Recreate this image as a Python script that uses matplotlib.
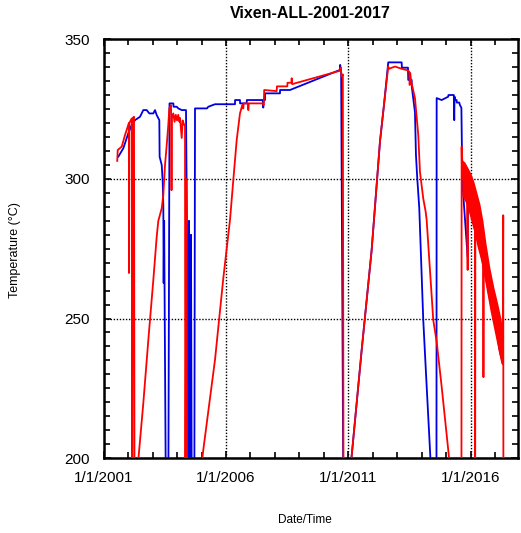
import matplotlib
matplotlib.use("Agg")
import matplotlib.pyplot as plt
import numpy as np

plt.rcParams['font.family'] = ['Liberation Sans', 'DejaVu Sans']

# dates are decimal years, values in deg C (values < 200 are off-scale drop-outs)
blue_t = [2001.604, 2001.808, 2002.012, 2002.151, 2002.286, 2002.490, 2002.624, 2002.763,
          2002.869, 2003.033, 2003.102, 2003.171, 2003.278, 2003.290, 2003.376, 2003.416,
          2003.441, 2003.455, 2003.475, 2003.490, 2003.571, 2003.633, 2003.694,
          2003.849, 2003.860, 2003.988, 2004.053, 2004.192, 2004.367, 2004.390, 2004.408,
          2004.449, 2004.490, 2004.531, 2004.571, 2004.612, 2004.700, 2004.735,
          2005.224, 2005.278, 2005.551, 2006.367, 2006.370, 2006.571, 2006.575, 2006.845,
          2006.850, 2007.500, 2007.522, 2007.540, 2007.592, 2007.595, 2008.204, 2008.207,
          2008.612, 2010.653, 2010.660, 2010.700, 2010.800,
          2011.155, 2011.539, 2011.743, 2011.947, 2012.286, 2012.449, 2012.624, 2013.171,
          2013.180, 2013.429, 2013.440, 2013.580, 2013.585, 2013.714, 2013.755, 2013.808,
          2013.890, 2014.053, 2014.151, 2014.327, 2014.449, 2014.592,
          2014.600, 2014.804, 2015.073, 2015.080, 2015.300, 2015.318, 2015.330, 2015.347,
          2015.416, 2015.420, 2015.522, 2015.551, 2015.610, 2015.630,
          2015.673, 2015.865, 2015.880, 2015.959, 2016.082, 2016.286, 2016.490, 2016.776,
          2016.980, 2017.184, 2017.298]
blue_v = [308.0, 311.0, 316.4, 319.4, 321.1, 322.3, 324.7, 324.7,
          323.5, 323.5, 324.7, 322.9, 321.1, 308.0, 305.0, 299.0,
          290.7, 262.7, 285.0, 263.0, 150.0, 150.0, 327.1,
          327.1, 325.9, 325.9, 325.3, 324.7, 324.7, 300.0, 280.0,
          150.0, 285.0, 150.0, 280.0, 150.0, 150.0, 325.3,
          325.3, 325.9, 326.8, 326.8, 328.3, 328.3, 327.1, 327.1,
          328.3, 328.3, 325.6, 328.3, 328.3, 330.7, 330.7, 331.9,
          331.9, 339.1, 340.9, 338.5, 171.0,
          203.0, 238.7, 256.6, 274.6, 313.4, 326.5, 341.8, 341.8,
          339.9, 339.9, 335.5, 335.5, 333.0, 324.0, 308.6, 300.3,
          289.6, 249.5, 232.7, 203.0, 182.0, 182.0,
          329.0, 328.3, 329.5, 330.1, 330.1, 321.1, 329.5, 328.3,
          328.3, 327.4, 327.4, 326.5, 325.5, 311.6,
          296.0, 272.0, 292.0, 289.0, 285.0, 278.0, 270.0, 257.0,
          249.0, 238.0, 234.0]

red_t = [2001.560, 2001.580, 2001.743, 2001.878, 2002.012, 2002.035, 2002.041, 2002.050,
         2002.151, 2002.171, 2002.204, 2002.245, 2002.265,
         2002.420, 2002.624, 2002.829, 2003.033, 2003.171, 2003.237, 2003.376, 2003.441,
         2003.510, 2003.580, 2003.645, 2003.686, 2003.755, 2003.765, 2003.776, 2003.790,
         2003.850, 2003.900, 2003.950, 2004.000, 2004.050, 2004.100, 2004.122, 2004.192,
         2004.230, 2004.290, 2004.327, 2004.340, 2004.380, 2004.420, 2004.449,
         2005.073, 2005.551, 2005.890, 2006.163, 2006.298, 2006.437, 2006.571, 2006.665,
         2006.706, 2006.720, 2006.900, 2006.910, 2006.930, 2007.500, 2007.540, 2007.560,
         2008.069, 2008.080, 2008.502, 2008.510, 2008.670, 2008.682, 2008.700,
         2010.653, 2010.680, 2010.720, 2010.770, 2010.800,
         2011.155, 2011.539, 2011.743, 2011.947, 2012.286, 2012.449, 2012.624,
         2012.650, 2012.900, 2013.171, 2013.400, 2013.480, 2013.500, 2013.520, 2013.560,
         2013.714, 2013.849, 2013.918, 2014.053, 2014.151, 2014.192, 2014.461, 2014.600,
         2014.804, 2015.073, 2015.224, 2015.612, 2015.620,
         2015.640, 2015.700, 2015.760, 2015.830, 2015.865, 2015.880, 2016.000, 2016.163,
         2016.170, 2016.180, 2016.350, 2016.502, 2016.510, 2016.520, 2016.700, 2016.900,
         2017.100, 2017.298, 2017.318, 2017.327]
red_v = [306.5, 310.4, 311.6, 315.8, 319.4, 320.0, 266.3, 320.0,
         321.7, 183.0, 322.0, 322.3, 183.0,
         199.3, 219.6, 242.3, 263.8, 279.3, 285.0, 289.5, 294.3,
         305.0, 312.2, 319.4, 325.3, 326.5, 320.5, 296.0, 322.0,
         323.5, 320.5, 323.0, 321.0, 323.0, 320.5, 321.9, 314.7,
         321.0, 319.4, 319.4, 160.0, 300.0, 155.0, 155.0,
         202.9, 235.2, 264.4, 285.3, 299.6, 314.0, 323.5, 326.5,
         325.3, 327.1, 327.1, 324.7, 327.1, 327.1, 326.5, 331.9,
         331.5, 333.2, 333.2, 334.5, 334.5, 336.1, 334.0,
         338.8, 340.0, 336.7, 337.5, 171.0,
         203.0, 238.7, 256.6, 274.6, 313.4, 326.5, 340.3,
         339.5, 340.3, 339.5, 339.0, 338.5, 333.7, 338.0, 335.0,
         329.0, 315.8, 302.6, 293.0, 288.3, 285.3, 249.5, 241.7,
         225.6, 202.9, 189.0, 189.0, 311.6,
         300.0, 305.0, 296.0, 303.0, 267.4, 300.0, 294.0, 290.0,
         150.0, 290.0, 280.0, 278.0, 229.0, 276.0, 262.0, 252.0,
         244.0, 235.0, 287.0, 150.0]

# spread of the dense red readings 2015-2017
band_t = [2015.633, 2015.755, 2015.878, 2016.000, 2016.122, 2016.245, 2016.367,
          2016.490, 2016.612, 2016.776, 2016.939, 2017.102, 2017.224, 2017.306]
band_lo = [294, 292, 289, 285, 281, 276, 272, 267, 261, 253, 246, 239, 234, 233]
band_hi = [307, 306, 304, 302, 299, 295, 291, 285, 277, 268, 261, 255, 250, 245]

major_years = [2001, 2006, 2011, 2016]
major_labels = ['1/1/2001', '1/1/2006', '1/1/2011', '1/1/2016']

fig = plt.figure(figsize=(5.21, 5.33), dpi=100)
ax = fig.add_axes([0.1987, 0.1407, 0.7955, 0.7852])

ax.plot(blue_t, blue_v, color='#0000e0', lw=1.3, zorder=3)
ax.fill_between(band_t, band_lo, band_hi, color='#ff0000', lw=0, zorder=4)
ax.plot(red_t, red_v, color='#ff0000', lw=1.3, zorder=5)

ax.set_xlim(2001.0, 2017.92)
ax.set_ylim(200, 350)
ax.set_xticks(major_years)
ax.set_xticklabels(major_labels)
ax.set_xticks(np.arange(2001, 2018), minor=True)
ax.set_yticks([200, 250, 300, 350])
ax.set_yticks(np.arange(200, 351, 5), minor=True)

ax.tick_params(which='both', direction='in', top=True, right=True, width=1.2, labelsize=11)
ax.tick_params(which='major', length=5)
ax.tick_params(axis='x', which='major', pad=9)
ax.tick_params(axis='y', which='major', pad=10)
ax.tick_params(which='minor', length=4)
ax.grid(True, which='major', color='black', linestyle=(0, (1, 1.2)), lw=1.0)
for s in ax.spines.values():
    s.set_linewidth(1.8)

fig.text(310 / 521, 1 - 14 / 533, 'Vixen-ALL-2001-2017', ha='center', va='center',
         fontsize=11.5, fontweight='bold')
fig.text(15 / 521, 1 - 250 / 533, 'Temperature (°C)', rotation=90, ha='center',
         va='center', fontsize=9)
fig.text(305 / 521, 1 - 520 / 533, 'Date/Time', ha='center', va='center', fontsize=8.5)

fig.savefig('out.png', dpi=100)
